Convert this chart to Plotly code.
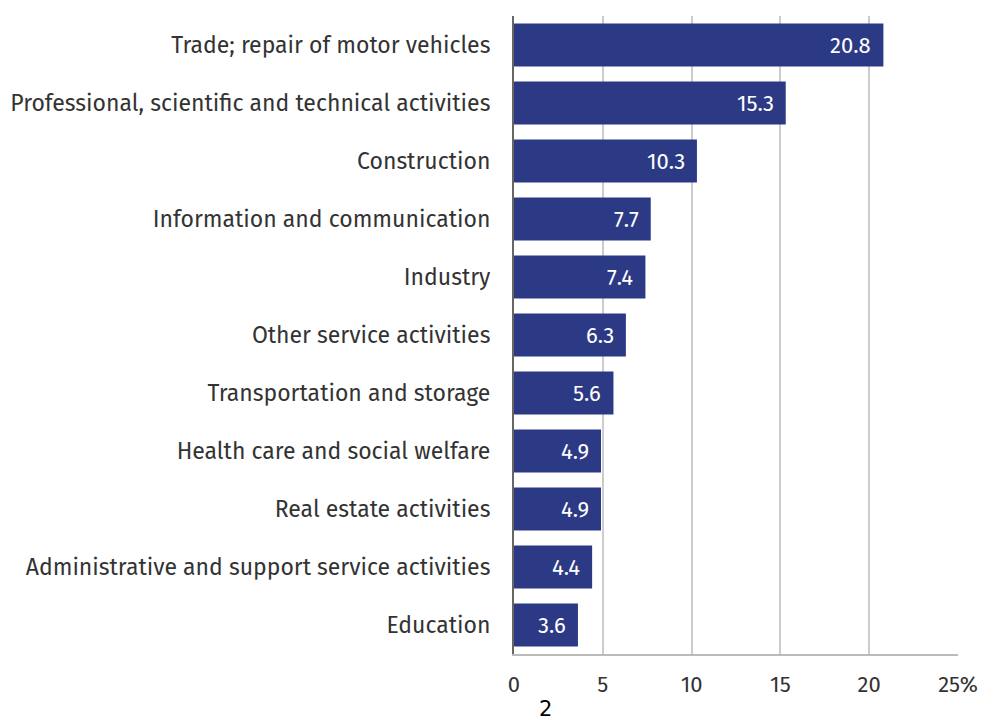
import plotly.graph_objects as go

categories = [
    "Trade; repair of motor vehicles",
    "Professional, scientific and technical activities",
    "Construction",
    "Information and communication",
    "Industry",
    "Other service activities",
    "Transportation and storage",
    "Health care and social welfare",
    "Real estate activities",
    "Administrative and support service activities",
    "Education",
]
values = [20.8, 15.3, 10.3, 7.7, 7.4, 6.3, 5.6, 4.9, 4.9, 4.4, 3.6]
tick_vals = [0, 5, 10, 15, 20, 25]
tick_text = ["0", "5", "10", "15", "20", "25%"]

bar_color = "#2c3a85"
font_family = "Fira Sans, Noto Sans, Open Sans, sans-serif"

fig = go.Figure()
fig.add_trace(go.Bar(
    x=values,
    y=categories,
    orientation="h",
    marker=dict(color=bar_color, line=dict(width=0)),
    hoverinfo="x+y",
))

for c, v in zip(categories, values):
    fig.add_annotation(
        x=v, y=c, xref="x", yref="y",
        text=f"{v:.1f}", showarrow=False,
        xanchor="right", xshift=-10,
        font=dict(color="white", size=22, family=font_family),
    )

fig.add_annotation(
    x=(537 - 506) / 444, y=(646 - 701) / 638, xref="paper", yref="paper",
    text="2", showarrow=False, xanchor="center", yanchor="middle",
    font=dict(color="black", size=21, family="DejaVu Sans"),
)

fig.update_layout(
    width=985, height=712,
    margin=dict(l=506, r=35, t=8, b=66, autoexpand=False),
    plot_bgcolor="white", paper_bgcolor="white",
    bargap=0.26,
    showlegend=False,
    font=dict(family=font_family, color="#333333", size=23),
)
fig.update_xaxes(
    range=[0, 25], tickvals=tick_vals, ticktext=tick_text,
    showgrid=True, gridcolor="#cccccc", gridwidth=1.5,
    showline=True, linecolor="#bbbbbb", linewidth=1.5,
    ticks="outside", ticklen=10, tickcolor="rgba(0,0,0,0)",
    zeroline=False, automargin=False,
    tickfont=dict(size=22, color="#333333"),
)
fig.update_yaxes(
    categoryorder="array", categoryarray=categories, autorange="reversed",
    showgrid=False, showline=True, linecolor="#666666", linewidth=2,
    ticks="outside", ticklen=17, tickcolor="rgba(0,0,0,0)",
    automargin=False,
    tickfont=dict(size=23, color="#333333"),
)

fig.write_html("out.html")
